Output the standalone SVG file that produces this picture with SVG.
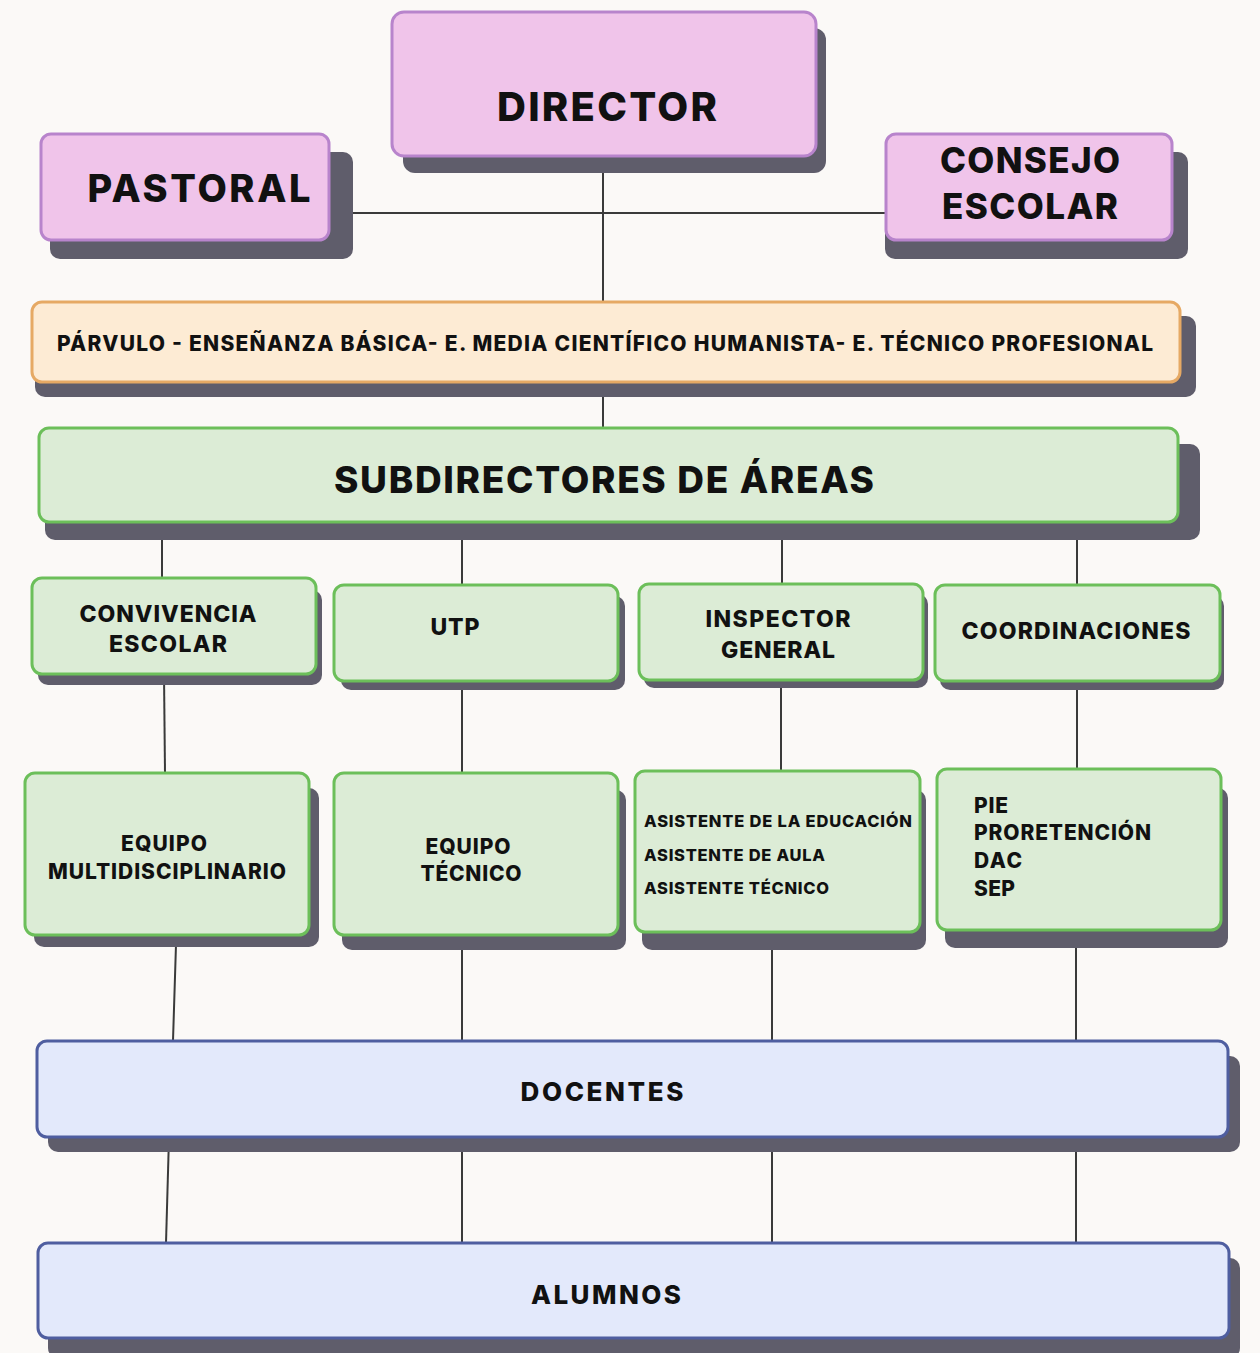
<svg xmlns="http://www.w3.org/2000/svg" width="1260" height="1353" viewBox="0 0 1260 1353">
<style>
.t{font-family:Inter,"Liberation Sans",sans-serif;font-weight:800;fill:#111;text-anchor:middle}
.tl{font-family:Inter,"Liberation Sans",sans-serif;font-weight:800;fill:#111}
.sh{fill:#5f5d6b}
.pk{fill:#f0c4ea;stroke:#b884cc;stroke-width:3}
.or{fill:#fdebd4;stroke:#e6a964;stroke-width:3}
.gr{fill:#dcecd6;stroke:#6cbf5a;stroke-width:3}
.bl{fill:#e3e9fb;stroke:#4f5ea0;stroke-width:3}
.ln{stroke:#3a3a3a;stroke-width:2;fill:none}
</style>
<rect x="0" y="0" width="1260" height="1353" fill="#fbf9f7"/>
<g id="connectors">
<line class="ln" x1="353" y1="213" x2="886" y2="213"/>
<line class="ln" x1="603" y1="160" x2="603" y2="302"/>
<line class="ln" x1="603" y1="395" x2="603" y2="428"/>
<line class="ln" x1="162" y1="522" x2="162" y2="578"/>
<line class="ln" x1="462" y1="538" x2="462" y2="585"/>
<line class="ln" x1="782" y1="538" x2="782" y2="584"/>
<line class="ln" x1="1077" y1="538" x2="1077" y2="585"/>
<line class="ln" x1="164" y1="674" x2="165" y2="773"/>
<line class="ln" x1="462" y1="688" x2="462" y2="773"/>
<line class="ln" x1="781" y1="686" x2="781" y2="771"/>
<line class="ln" x1="1077" y1="688" x2="1077" y2="769"/>
<line class="ln" x1="176" y1="945" x2="173" y2="1041"/>
<line class="ln" x1="462" y1="948" x2="462" y2="1041"/>
<line class="ln" x1="772" y1="948" x2="772" y2="1041"/>
<line class="ln" x1="1076" y1="946" x2="1076" y2="1041"/>
<line class="ln" x1="169" y1="1137" x2="166" y2="1243"/>
<line class="ln" x1="462" y1="1150" x2="462" y2="1243"/>
<line class="ln" x1="772" y1="1150" x2="772" y2="1243"/>
<line class="ln" x1="1076" y1="1150" x2="1076" y2="1243"/>
</g>
<g id="director">
<rect class="sh" x="403" y="28" width="423" height="145" rx="12"/>
<rect class="pk" x="392" y="12" width="424" height="144" rx="12"/>
<text class="t" x="607" y="121" font-size="40" textLength="220" lengthAdjust="spacing">DIRECTOR</text>
</g>
<g id="pastoral">
<rect class="sh" x="50" y="152" width="303" height="107" rx="10"/>
<rect class="pk" x="41" y="134" width="288" height="106" rx="10"/>
<text class="t" x="199" y="202" font-size="38" textLength="223" lengthAdjust="spacing">PASTORAL</text>
</g>
<g id="consejo">
<rect class="sh" x="885" y="152" width="303" height="107" rx="10"/>
<rect class="pk" x="886" y="134" width="286" height="106" rx="10"/>
<text class="t" x="1030" y="173" font-size="35" textLength="180" lengthAdjust="spacing">CONSEJO</text>
<text class="t" x="1030" y="219" font-size="35" textLength="176" lengthAdjust="spacing">ESCOLAR</text>
</g>
<g id="niveles">
<rect class="sh" x="35" y="316" width="1161" height="81" rx="10"/>
<rect class="or" x="32" y="302" width="1148" height="80" rx="10"/>
<text class="t" x="605" y="351" font-size="21" textLength="1096" lengthAdjust="spacing">PÁRVULO - ENSEÑANZA BÁSICA- E. MEDIA CIENTÍFICO HUMANISTA- E. TÉCNICO PROFESIONAL</text>
</g>
<g id="subdirectores">
<rect class="sh" x="45" y="444" width="1155" height="96" rx="10"/>
<rect class="gr" x="39" y="428" width="1139" height="94" rx="10"/>
<text class="t" x="604" y="493" font-size="37" textLength="540" lengthAdjust="spacing">SUBDIRECTORES DE ÁREAS</text>
</g>
<g id="convivencia">
<rect class="sh" x="38" y="590" width="284" height="95" rx="10"/>
<rect class="gr" x="32" y="578" width="284" height="96" rx="10"/>
<text class="t" x="168" y="622" font-size="23" textLength="177" lengthAdjust="spacing">CONVIVENCIA</text>
<text class="t" x="168" y="652" font-size="23" textLength="118" lengthAdjust="spacing">ESCOLAR</text>
</g>
<g id="utp">
<rect class="sh" x="341" y="596" width="284" height="94" rx="10"/>
<rect class="gr" x="334" y="585" width="284" height="96" rx="10"/>
<text class="t" x="455" y="635" font-size="23" textLength="49" lengthAdjust="spacing">UTP</text>
</g>
<g id="inspector">
<rect class="sh" x="644" y="594" width="284" height="94" rx="10"/>
<rect class="gr" x="639" y="584" width="284" height="96" rx="10"/>
<text class="t" x="778" y="627" font-size="23" textLength="145" lengthAdjust="spacing">INSPECTOR</text>
<text class="t" x="778" y="658" font-size="23" textLength="114" lengthAdjust="spacing">GENERAL</text>
</g>
<g id="coordinaciones">
<rect class="sh" x="940" y="596" width="284" height="94" rx="10"/>
<rect class="gr" x="935" y="585" width="285" height="96" rx="10"/>
<text class="t" x="1076" y="639" font-size="23" textLength="229" lengthAdjust="spacing">COORDINACIONES</text>
</g>
<g id="multidisciplinario">
<rect class="sh" x="34" y="788" width="285" height="159" rx="10"/>
<rect class="gr" x="25" y="773" width="284" height="162" rx="10"/>
<text class="t" x="164" y="851" font-size="21" textLength="86" lengthAdjust="spacing">EQUIPO</text>
<text class="t" x="167" y="879" font-size="21" textLength="238" lengthAdjust="spacing">MULTIDISCIPLINARIO</text>
</g>
<g id="tecnico">
<rect class="sh" x="342" y="790" width="284" height="160" rx="10"/>
<rect class="gr" x="334" y="773" width="284" height="162" rx="10"/>
<text class="t" x="468" y="854" font-size="21" textLength="85" lengthAdjust="spacing">EQUIPO</text>
<text class="t" x="471" y="881" font-size="21" textLength="101" lengthAdjust="spacing">TÉCNICO</text>
</g>
<g id="asistentes">
<rect class="sh" x="642" y="790" width="284" height="160" rx="10"/>
<rect class="gr" x="635" y="771" width="285" height="161" rx="10"/>
<text class="tl" x="644" y="827" font-size="16.5" textLength="268" lengthAdjust="spacing">ASISTENTE DE LA EDUCACIÓN</text>
<text class="tl" x="644" y="861" font-size="16.5" textLength="181" lengthAdjust="spacing">ASISTENTE DE AULA</text>
<text class="tl" x="644" y="894" font-size="16.5" textLength="185" lengthAdjust="spacing">ASISTENTE TÉCNICO</text>
</g>
<g id="programas">
<rect class="sh" x="945" y="788" width="283" height="160" rx="10"/>
<rect class="gr" x="937" y="769" width="284" height="161" rx="10"/>
<text class="tl" x="974" y="813" font-size="21" textLength="34" lengthAdjust="spacing">PIE</text>
<text class="tl" x="974" y="840" font-size="21" textLength="177" lengthAdjust="spacing">PRORETENCIÓN</text>
<text class="tl" x="974" y="868" font-size="21" textLength="48" lengthAdjust="spacing">DAC</text>
<text class="tl" x="974" y="896" font-size="21" textLength="41" lengthAdjust="spacing">SEP</text>
</g>
<g id="docentes">
<rect class="sh" x="48" y="1056" width="1192" height="96" rx="10"/>
<rect class="bl" x="37" y="1041" width="1191" height="96" rx="10"/>
<text class="t" x="602" y="1101" font-size="26" textLength="163" lengthAdjust="spacing">DOCENTES</text>
</g>
<g id="alumnos">
<rect class="sh" x="48" y="1258" width="1192" height="100" rx="10"/>
<rect class="bl" x="38" y="1243" width="1191" height="95" rx="10"/>
<text class="t" x="606" y="1304" font-size="26" textLength="150" lengthAdjust="spacing">ALUMNOS</text>
</g>
</svg>
